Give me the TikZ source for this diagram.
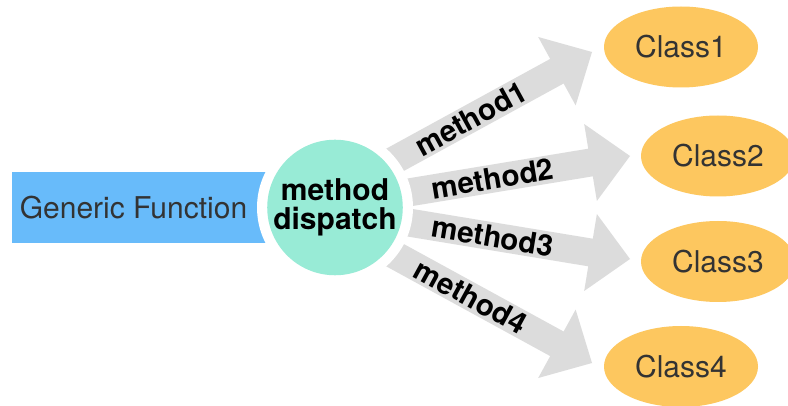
\documentclass[tikz,border=0pt]{standalone}
\usepackage{fontspec}
\setmainfont{TeX Gyre Heros}
\usetikzlibrary{calc,shapes.geometric}

\definecolor{gfblue}{HTML}{68BBFA}
\definecolor{hubteal}{HTML}{98EBD6}
\definecolor{arrowgray}{HTML}{DCDCDC}
\definecolor{classorange}{HTML}{FDC75F}
\definecolor{darktext}{HTML}{333333}

% block arrow from base centre #1 to tip #2
\newcommand\grayarrow[2]{%
  \coordinate (ga-b) at ($(#1)!-30pt!(#2)$);
  \coordinate (ga-h) at ($(#2)!40pt!(#1)$);
  \fill[arrowgray]
    ($(ga-b)!14pt!90:(#2)$) -- ($(ga-h)!14pt!90:(#2)$) --
    ($(ga-h)!39pt!90:(#2)$) -- (#2) --
    ($(ga-h)!39pt!-90:(#2)$) -- ($(ga-h)!14pt!-90:(#2)$) --
    ($(ga-b)!14pt!-90:(#2)$) -- cycle;
}

\begin{document}
\begin{tikzpicture}[x=1pt,y=-1pt,
  hub/.style={circle, fill=hubteal, minimum size=135pt, inner sep=0pt,
    align=center, font=\fontsize{30}{29}\selectfont\bfseries},
  classnode/.style={ellipse, fill=classorange, minimum width=154pt,
    minimum height=81pt, inner sep=0pt, text=darktext,
    font=\fontsize{30}{31}\selectfont},
  lbl/.style={sloped, font=\fontsize{29.5}{31}\selectfont\bfseries, inner sep=0pt},
]
\clip (0,0) rectangle (788,406);
\fill[white] (0,0) rectangle (788,406);

\coordinate (hubc) at (335,207.5);

% Generic Function band
\fill[gfblue] (12,172) rectangle (300,243);
\node[text=darktext, font=\fontsize{30}{31}\selectfont] (gf) at (133.5,207.5) {Generic Function};

% arrow base centres and tips
\coordinate (s1) at (396.5,159);   \coordinate (t1) at (592,52);
\coordinate (s2) at (408.5,192.5); \coordinate (t2) at (630,156);
\coordinate (s3) at (408.5,222.5); \coordinate (t3) at (630,259);
\coordinate (s4) at (396.5,256);   \coordinate (t4) at (592,363);

\grayarrow{s1}{t1}
\grayarrow{s2}{t2}
\grayarrow{s3}{t3}
\grayarrow{s4}{t4}

% white ring separating the hub from band and arrows
\fill[white] (hubc) circle (78pt);
\node[hub] (disp) at (hubc) {method\\dispatch};

% arrow labels
\path (s1) -- (t1) node[lbl, pos=0.38] (m1) {method1};
\path (s2) -- (t2) node[lbl, pos=0.38] (m2) {method2};
\path (s3) -- (t3) node[lbl, pos=0.38] (m3) {method3};
\path (s4) -- (t4) node[lbl, pos=0.38] (m4) {method4};

% classes
\node[classnode] (c1) at (681,47)    {Class1};
\node[classnode] (c2) at (718,156)   {Class2};
\node[classnode] (c3) at (718,261.5) {Class3};
\node[classnode] (c4) at (681,366.5) {Class4};
\end{tikzpicture}
\end{document}
